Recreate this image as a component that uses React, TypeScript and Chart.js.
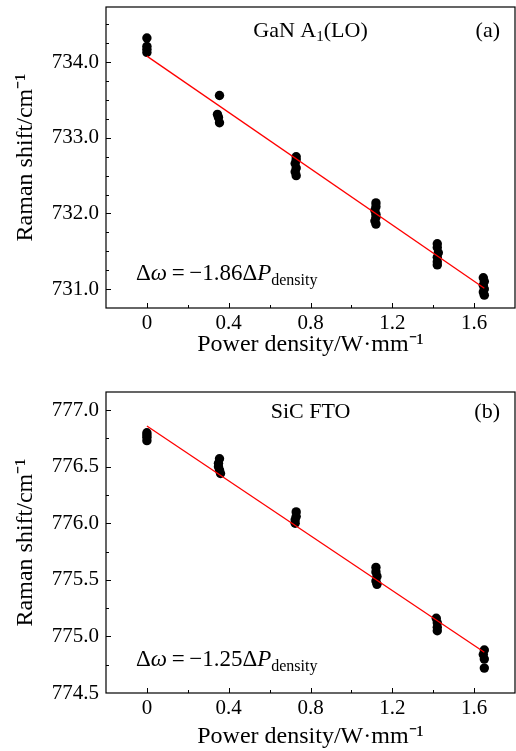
import React, { useEffect, useRef } from "react";
import { Chart, registerables } from "chart.js";

Chart.register(...registerables);

const SERIF = "'Liberation Serif', 'Times New Roman', serif";

// ---------------- shared x axis ----------------
const xRange = [-0.2, 1.8];
const xMajorTicks = [0, 0.4, 0.8, 1.2, 1.6];
const xTickLabels = ["0", "0.4", "0.8", "1.2", "1.6"];
const xMinorStep = 0.2;
const xTitle = "Power density/W·mm⁻¹";
const yTitle = "Raman shift/cm⁻¹";

// ---------------- panel (a): GaN A1(LO) ----------------
const aPowerDensity = [
  0, 0, 0, 0,
  0.355, 0.345, 0.35, 0.355,
  0.73, 0.73, 0.725, 0.73, 0.725, 0.73,
  1.12, 1.12, 1.115, 1.12, 1.12, 1.115, 1.12,
  1.42, 1.42, 1.425, 1.42, 1.42, 1.42,
  1.645, 1.65, 1.645, 1.65, 1.645, 1.65,
];
const aRamanShift = [
  734.32, 734.21, 734.17, 734.13,
  733.56, 733.31, 733.27, 733.2,
  732.75, 732.71, 732.66, 732.6, 732.55, 732.5,
  732.14, 732.09, 732.04, 731.99, 731.95, 731.9, 731.86,
  731.6, 731.55, 731.48, 731.42, 731.36, 731.32,
  731.15, 731.1, 731.05, 731.0, 730.96, 730.92,
];
const aFitX = [0, 1.65];
const aFitY = [734.08, 731.01];
const aYRange = [730.75, 734.73];
const aYTicks = [731, 732, 733, 734];
const aYTickLabels = ["731.0", "732.0", "733.0", "734.0"];
const aYMinorStep = 0.25;
const aLabel = "(a)";
const aName = [{ t: "GaN A" }, { t: "1", sub: true }, { t: "(LO)" }];
const aEquation = [
  { t: "Δ" }, { t: "ω", italic: true }, { t: "\u2009=\u2009−1.86Δ" }, { t: "P", italic: true }, { t: "density", sub: true },
];

// ---------------- panel (b): SiC FTO ----------------
const bPowerDensity = [
  0, 0, 0, 0,
  0.355, 0.35, 0.35, 0.355, 0.36,
  0.73, 0.73, 0.725, 0.725,
  1.12, 1.12, 1.125, 1.12, 1.125,
  1.415, 1.42, 1.42, 1.42,
  1.65, 1.645, 1.65, 1.65,
];
const bRamanShift = [
  776.8, 776.78, 776.76, 776.73,
  776.57, 776.53, 776.5, 776.47, 776.44,
  776.1, 776.06, 776.03, 776.0,
  775.61, 775.57, 775.53, 775.49, 775.46,
  775.16, 775.12, 775.08, 775.05,
  774.88, 774.84, 774.8, 774.72,
];
const bFitX = [0, 1.65];
const bFitY = [776.86, 774.86];
const bYRange = [774.5, 777.16];
const bYTicks = [774.5, 775.0, 775.5, 776.0, 776.5, 777.0];
const bYTickLabels = ["774.5", "775.0", "775.5", "776.0", "776.5", "777.0"];
const bYMinorStep = 0.25;
const bLabel = "(b)";
const bName = [{ t: "SiC FTO" }];
const bEquation = [
  { t: "Δ" }, { t: "ω", italic: true }, { t: "\u2009=\u2009−1.25Δ" }, { t: "P", italic: true }, { t: "density", sub: true },
];

type Seg = { t: string; italic?: boolean; sub?: boolean };

function fontOf(s: Seg, size: number) {
  const sz = s.sub ? Math.round(size * 0.7) : size;
  return `${s.italic ? "italic " : ""}${sz}px ${SERIF}`;
}

function drawRich(ctx: CanvasRenderingContext2D, segs: Seg[], x: number, y: number, align: string, size: number) {
  const widths = segs.map((s) => {
    ctx.font = fontOf(s, size);
    return ctx.measureText(s.t).width;
  });
  const total = widths.reduce((a, b) => a + b, 0);
  let cx = align === "left" ? x : align === "center" ? x - total / 2 : x - total;
  ctx.textAlign = "left";
  ctx.textBaseline = "alphabetic";
  ctx.fillStyle = "#000";
  segs.forEach((s, i) => {
    ctx.font = fontOf(s, size);
    ctx.fillText(s.t, cx, y + (s.sub ? size * 0.2 : 0));
    cx += widths[i];
  });
}

const framePlugin = {
  id: "frame",
  afterDraw(chart: any, _args: any, opts: any) {
    const { ctx, chartArea, scales } = chart;
    const { left, right, top, bottom } = chartArea;
    ctx.save();
    ctx.strokeStyle = "#000";
    ctx.lineWidth = 1.2;
    ctx.strokeRect(left, top, right - left, bottom - top);
    ctx.lineWidth = 1;
    const xs = scales.x;
    const ys = scales.y;
    const eps = 1e-6;
    for (let v = xs.min; v <= xs.max + eps; v += opts.xMinorStep) {
      const isMajor = opts.xMajor.some((m: number) => Math.abs(m - v) < eps);
      const px = Math.round(xs.getPixelForValue(v)) + 0.5;
      if (px <= left + 1 || px >= right - 1) continue;
      const len = isMajor ? 5 : 3;
      ctx.beginPath();
      ctx.moveTo(px, bottom);
      ctx.lineTo(px, bottom - len);
      ctx.stroke();
    }
    const start = Math.ceil((ys.min - eps) / opts.yMinorStep) * opts.yMinorStep;
    for (let v = start; v <= ys.max + eps; v += opts.yMinorStep) {
      const isMajor = opts.yMajor.some((m: number) => Math.abs(m - v) < eps);
      const py = Math.round(ys.getPixelForValue(v)) + 0.5;
      if (py <= top + 1 || py >= bottom - 1) continue;
      const len = isMajor ? 5 : 3;
      ctx.beginPath();
      ctx.moveTo(left, py);
      ctx.lineTo(left + len, py);
      ctx.stroke();
    }
    drawRich(ctx, opts.name, (left + right) / 2, top + opts.nameDy, "center", 22);
    drawRich(ctx, [{ t: opts.label }], right - 15, top + opts.nameDy, "right", 22);
    drawRich(ctx, opts.equation, left + 30, bottom - opts.eqDy, "left", 23);
    ctx.restore();
  },
};

type PanelProps = {
  top: number;
  height: number;
  plotTop: number;
  xAxisHeight: number;
  xTitlePad: number;
  px: number[];
  py: number[];
  fx: number[];
  fy: number[];
  yRange: number[];
  yTicks: number[];
  yTickLabels: string[];
  yMinorStep: number;
  label: string;
  name: Seg[];
  equation: Seg[];
  nameDy: number;
  eqDy: number;
};

function Panel(p: PanelProps) {
  const ref = useRef<HTMLCanvasElement | null>(null);
  useEffect(() => {
    if (!ref.current) return;
    const tickFont = { family: SERIF, size: 21 };
    const titleFont = { family: SERIF, size: 24 };
    const chart = new Chart(ref.current, {
      type: "scatter",
      data: {
        datasets: [
          {
            data: p.fx.map((x, i) => ({ x, y: p.fy[i] })),
            showLine: true,
            borderColor: "#ff0000",
            borderWidth: 1.3,
            pointRadius: 0,
            fill: false,
          },
          {
            data: p.px.map((x, i) => ({ x, y: p.py[i] })),
            pointRadius: 4.7,
            pointBackgroundColor: "#000",
            pointBorderColor: "#000",
            pointBorderWidth: 0,
            showLine: false,
          },
        ],
      },
      options: {
        responsive: false,
        animation: false,
        devicePixelRatio: 1,
        layout: { autoPadding: false, padding: { top: p.plotTop, right: 1, left: 0, bottom: 0 } },
        plugins: {
          legend: { display: false },
          tooltip: { enabled: false },
          frame: {
            xMinorStep,
            xMajor: xMajorTicks,
            yMinorStep: p.yMinorStep,
            yMajor: p.yTicks,
            label: p.label,
            name: p.name,
            equation: p.equation,
            nameDy: p.nameDy,
            eqDy: p.eqDy,
          },
        } as any,
        scales: {
          x: {
            type: "linear",
            min: xRange[0],
            max: xRange[1],
            afterBuildTicks: (s: any) => {
              s.ticks = xMajorTicks.map((v) => ({ value: v }));
            },
            ticks: {
              callback: (_v: any, i: number) => xTickLabels[i],
              font: tickFont,
              color: "#000",
              padding: 3,
              maxRotation: 0,
              autoSkip: false,
            },
            grid: { display: false, drawTicks: false },
            border: { display: false },
            title: {
              display: true,
              text: xTitle,
              font: titleFont,
              color: "#000",
              padding: { top: 0, bottom: p.xTitlePad },
            },
            afterFit: (s: any) => {
              s.height = p.xAxisHeight;
              s.paddingLeft = 0;
              s.paddingRight = 0;
            },
          },
          y: {
            type: "linear",
            min: p.yRange[0],
            max: p.yRange[1],
            afterBuildTicks: (s: any) => {
              s.ticks = p.yTicks.map((v) => ({ value: v }));
            },
            ticks: {
              callback: (_v: any, i: number) => p.yTickLabels[i],
              font: tickFont,
              color: "#000",
              padding: 7,
              autoSkip: false,
            },
            grid: { display: false, drawTicks: false },
            border: { display: false },
            title: {
              display: true,
              text: yTitle,
              font: titleFont,
              color: "#000",
              padding: { top: 11, bottom: 0 },
            },
            afterFit: (s: any) => {
              s.width = 106;
              s.paddingTop = 0;
              s.paddingBottom = 0;
              s.paddingLeft = 0;
              s.paddingRight = 0;
            },
          },
        },
      },
      plugins: [framePlugin as any],
    } as any);
    return () => chart.destroy();
  }, []);
  return (
    <div style={{ position: "absolute", left: 0, top: p.top, width: 516, height: p.height }}>
      <canvas ref={ref} width={516} height={p.height} style={{ display: "block", width: 516, height: p.height }} />
    </div>
  );
}

export default function App() {
  return (
    <div style={{ position: "absolute", left: 0, top: 0, width: 516, height: 751, background: "#fff" }}>
      <Panel
        top={0}
        height={375}
        plotTop={7}
        xAxisHeight={67}
        xTitlePad={16}
        px={aPowerDensity}
        py={aRamanShift}
        fx={aFitX}
        fy={aFitY}
        yRange={aYRange}
        yTicks={aYTicks}
        yTickLabels={aYTickLabels}
        yMinorStep={aYMinorStep}
        label={aLabel}
        name={aName}
        equation={aEquation}
        nameDy={30}
        eqDy={28}
      />
      <Panel
        top={375}
        height={376}
        plotTop={17}
        xAxisHeight={58}
        xTitlePad={0}
        px={bPowerDensity}
        py={bRamanShift}
        fx={bFitX}
        fy={bFitY}
        yRange={bYRange}
        yTicks={bYTicks}
        yTickLabels={bYTickLabels}
        yMinorStep={bYMinorStep}
        label={bLabel}
        name={bName}
        equation={bEquation}
        nameDy={26}
        eqDy={27}
      />
    </div>
  );
}
